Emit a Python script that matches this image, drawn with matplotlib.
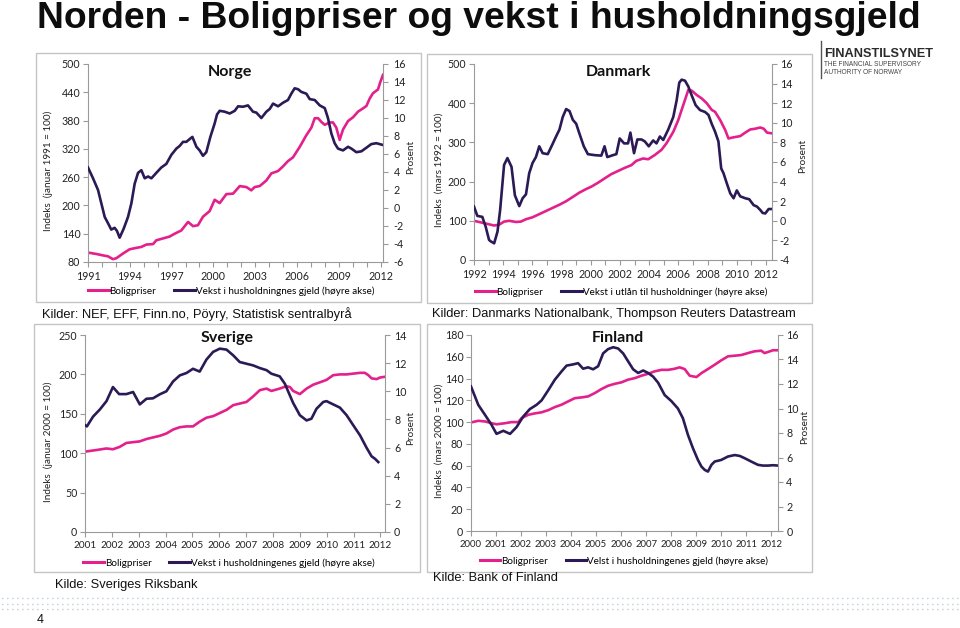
import matplotlib
matplotlib.use("Agg")
import matplotlib.pyplot as plt
from matplotlib.lines import Line2D
from matplotlib.patches import Rectangle

# ---------------- data ----------------
# Norge
no_price_t = [1991.00, 1991.60, 1992.08, 1992.44, 1992.79, 1993.03, 1993.51, 1993.99, 1994.47, 1994.83,
              1995.19, 1995.67, 1995.90, 1996.38, 1996.86, 1997.22, 1997.70, 1998.18, 1998.54, 1998.89,
              1999.25, 1999.73, 2000.09, 2000.45, 2000.93, 2001.41, 2001.89, 2002.36, 2002.72, 2002.96,
              2003.32, 2003.80, 2004.16, 2004.64, 2005.00, 2005.35, 2005.71, 2006.19, 2006.67, 2007.03,
              2007.27, 2007.51, 2007.75, 2007.99, 2008.34, 2008.58, 2008.82, 2009.06, 2009.30, 2009.66,
              2010.02, 2010.38, 2010.74, 2010.98, 2011.22, 2011.45, 2011.81, 2011.98, 2012.17]
no_price = [100, 97, 94, 92, 86, 88, 98, 107, 110, 112,
            117, 118, 126, 130, 134, 140, 147, 165, 156, 158,
            176, 188, 212, 205, 224, 225, 241, 239, 232, 239,
            241, 253, 268, 273, 283, 294, 302, 324, 349, 365,
            385, 385, 377, 371, 376, 376, 365, 339, 361, 379,
            387, 399, 406, 411, 427, 438, 446, 462, 477]
no_debt_t = [1991.00, 1991.36, 1991.72, 1991.96, 1992.20, 1992.44, 1992.67, 1992.91, 1993.08, 1993.27,
             1993.56, 1993.87, 1994.11, 1994.35, 1994.59, 1994.83, 1995.07, 1995.31, 1995.55, 1995.90,
             1996.26, 1996.62, 1996.98, 1997.34, 1997.58, 1997.82, 1998.06, 1998.25, 1998.49, 1998.78,
             1999.01, 1999.25, 1999.49, 1999.78, 2000.09, 2000.26, 2000.45, 2000.81, 2001.17, 2001.53,
             2001.77, 2002.12, 2002.48, 2002.84, 2003.08, 2003.44, 2003.80, 2004.04, 2004.28, 2004.64,
             2005.00, 2005.35, 2005.59, 2005.83, 2006.07, 2006.31, 2006.67, 2006.91, 2007.27, 2007.63,
             2007.99, 2008.22, 2008.46, 2008.70, 2008.94, 2009.30, 2009.66, 2009.90, 2010.26, 2010.62,
             2010.98, 2011.33, 2011.69, 2012.17]
no_debt = [4.5, 3.3, 2.0, 0.5, -1.0, -1.7, -2.4, -2.2, -2.55, -3.3,
           -2.3, -1.0, 0.5, 2.7, 3.9, 4.2, 3.3, 3.5, 3.3, 3.9,
           4.5, 4.9, 5.9, 6.6, 6.9, 7.35, 7.35, 7.6, 7.9, 6.8,
           6.4, 5.8, 6.2, 7.9, 9.4, 10.4, 10.8, 10.7, 10.5, 10.8,
           11.3, 11.25, 11.4, 10.7, 10.6, 10.0, 10.7, 11.0, 11.6, 11.3,
           11.7, 12.0, 12.7, 13.3, 13.2, 12.9, 12.7, 12.1, 12.0, 11.4,
           11.1, 10.0, 8.3, 7.2, 6.6, 6.4, 6.8, 6.6, 6.2, 6.3,
           6.7, 7.1, 7.2, 7.0]

# Danmark
dk_price_t = [1992.00, 1992.46, 1992.92, 1993.38, 1993.72, 1994.06, 1994.41, 1994.87, 1995.21, 1995.56,
              1996.01, 1996.47, 1996.93, 1997.39, 1997.85, 1998.31, 1998.77, 1999.22, 1999.68, 2000.03,
              2000.49, 2000.94, 2001.40, 2001.86, 2002.32, 2002.78, 2003.12, 2003.58, 2003.93, 2004.39,
              2004.84, 2005.19, 2005.65, 2005.99, 2006.33, 2006.68, 2006.91, 2007.25, 2007.60, 2007.94,
              2008.28, 2008.51, 2008.86, 2009.20, 2009.43, 2009.78, 2010.23, 2010.58, 2010.92, 2011.27,
              2011.61, 2011.84, 2012.07, 2012.41]
dk_price = [100, 96, 92, 88, 90, 98, 100, 97, 98, 104,
            109, 117, 125, 133, 141, 150, 161, 172, 181, 187,
            197, 208, 219, 227, 235, 242, 253, 259, 257, 268,
            281, 298, 327, 357, 395, 434, 432, 421, 412, 400,
            383, 378, 357, 332, 310, 313, 316, 325, 333, 335,
            338, 335, 325, 323]
dk_debt_t = [1992.00, 1992.23, 1992.57, 1992.80, 1993.03, 1993.15, 1993.38, 1993.61, 1993.79, 1994.06,
             1994.29, 1994.57, 1994.80, 1995.10, 1995.33, 1995.56, 1995.78, 1996.01, 1996.24, 1996.47,
             1996.70, 1997.05, 1997.34, 1997.62, 1997.85, 1998.08, 1998.31, 1998.54, 1998.77, 1999.00,
             1999.22, 1999.52, 1999.80, 2000.26, 2000.72, 2000.94, 2001.13, 2001.52, 2001.75, 2001.98,
             2002.28, 2002.55, 2002.71, 2002.96, 2003.19, 2003.47, 2003.70, 2003.97, 2004.27, 2004.50,
             2004.73, 2004.96, 2005.30, 2005.65, 2005.88, 2006.06, 2006.22, 2006.45, 2006.68, 2006.91,
             2007.18, 2007.48, 2007.83, 2008.06, 2008.28, 2008.51, 2008.74, 2008.93, 2009.09, 2009.32,
             2009.55, 2009.78, 2010.00, 2010.23, 2010.58, 2010.85, 2011.15, 2011.38, 2011.61, 2011.77,
             2011.95, 2012.18, 2012.41]
dk_debt = [1.45, 0.5, 0.4, -0.6, -1.95, -2.1, -2.3, -1.1, 1.1, 5.7,
           6.4, 5.5, 2.6, 1.5, 2.3, 2.7, 4.85, 5.9, 6.5, 7.6,
           6.9, 6.8, 7.7, 8.6, 9.3, 10.6, 11.4, 11.2, 10.3, 9.9,
           8.9, 7.6, 6.8, 6.7, 6.65, 7.6, 6.5, 6.7, 6.8, 8.4,
           7.9, 7.9, 9.0, 6.9, 8.3, 8.3, 8.1, 7.6, 8.2, 7.9,
           8.6, 8.25, 9.3, 10.6, 12.3, 14.1, 14.4, 14.3, 13.7, 12.8,
           11.8, 11.3, 11.1, 10.8, 9.9, 9.1, 8.1, 5.35, 4.85, 3.8,
           2.8, 2.3, 3.1, 2.5, 2.3, 2.2, 1.6, 1.45, 1.1, 0.8,
           0.75, 1.2, 1.2]

# Sverige
se_price_t = [2001.00, 2001.42, 2001.80, 2002.04, 2002.29, 2002.54, 2002.79, 2003.04, 2003.29, 2003.53,
              2003.78, 2004.03, 2004.28, 2004.53, 2004.78, 2005.02, 2005.27, 2005.52, 2005.77, 2006.02,
              2006.27, 2006.52, 2006.76, 2007.01, 2007.26, 2007.51, 2007.76, 2007.94, 2008.25, 2008.50,
              2008.63, 2008.75, 2009.00, 2009.25, 2009.50, 2009.75, 2009.99, 2010.24, 2010.49, 2010.74,
              2010.99, 2011.24, 2011.42, 2011.55, 2011.67, 2011.86, 2011.98, 2012.17]
se_price = [102, 104, 106, 105, 108, 113, 114, 115, 118, 120,
            122, 125, 130, 133, 134, 134, 140, 145, 147, 151,
            155, 161, 163, 165, 172, 180, 182, 179, 182, 185,
            184, 179, 175, 182, 187, 190, 193, 199, 200, 200,
            201, 202, 202, 199, 195, 194, 196, 197]
se_debt_t = [2001.00, 2001.07, 2001.30, 2001.55, 2001.80, 2002.04, 2002.27, 2002.54, 2002.79, 2003.04,
             2003.29, 2003.53, 2003.78, 2004.03, 2004.28, 2004.53, 2004.78, 2005.02, 2005.27, 2005.52,
             2005.77, 2006.02, 2006.27, 2006.52, 2006.76, 2007.01, 2007.26, 2007.51, 2007.76, 2007.94,
             2008.25, 2008.44, 2008.63, 2008.75, 2009.00, 2009.25, 2009.43, 2009.62, 2009.87, 2009.99,
             2010.24, 2010.49, 2010.74, 2010.99, 2011.24, 2011.48, 2011.67, 2011.80, 2011.92]
se_debt = [7.6, 7.5, 8.2, 8.7, 9.3, 10.3, 9.8, 9.8, 9.95, 9.07,
           9.47, 9.5, 9.78, 10.0, 10.7, 11.13, 11.3, 11.6, 11.4, 12.25,
           12.8, 13.03, 12.96, 12.55, 12.08, 11.96, 11.84, 11.65, 11.5, 11.25,
           11.06, 10.54, 9.7, 9.17, 8.3, 7.93, 8.05, 8.76, 9.24, 9.3,
           9.07, 8.84, 8.3, 7.58, 6.87, 6.0, 5.38, 5.2, 4.97]

# Finland
fi_price_t = [2000.00, 2000.29, 2000.56, 2000.82, 2001.02, 2001.36, 2001.62, 2001.89, 2002.02, 2002.29,
              2002.55, 2002.82, 2003.09, 2003.35, 2003.62, 2003.88, 2004.15, 2004.42, 2004.68, 2004.95,
              2005.21, 2005.48, 2005.75, 2006.01, 2006.28, 2006.55, 2006.81, 2007.08, 2007.34, 2007.61,
              2007.88, 2008.14, 2008.34, 2008.54, 2008.74, 2009.01, 2009.21, 2009.47, 2009.74, 2010.00,
              2010.27, 2010.54, 2010.80, 2011.07, 2011.33, 2011.60, 2011.73, 2011.87, 2012.07, 2012.24]
fi_price = [99.7, 101.2, 100.6, 99, 98, 99, 100, 100, 103.7, 106.7,
            108, 109, 111, 113.8, 116, 119, 122, 122.7, 123.6, 126.7,
            130.3, 133.4, 135.2, 136.5, 139, 140.4, 142.6, 144.4, 146.6, 148,
            148, 149, 150.3, 148.7, 142.6, 141.4, 145, 148.7, 152.7, 156.7,
            160.4, 161, 161.6, 163.4, 165, 165.6, 163.4, 164.4, 166, 166]
fi_debt_t = [2000.00, 2000.29, 2000.56, 2000.82, 2001.02, 2001.29, 2001.56, 2001.82, 2002.09, 2002.35,
             2002.62, 2002.82, 2003.09, 2003.35, 2003.62, 2003.82, 2004.08, 2004.28, 2004.48, 2004.68,
             2004.88, 2005.08, 2005.28, 2005.48, 2005.68, 2005.88, 2006.08, 2006.28, 2006.48, 2006.68,
             2006.88, 2007.08, 2007.28, 2007.48, 2007.74, 2008.01, 2008.27, 2008.47, 2008.67, 2008.87,
             2009.07, 2009.21, 2009.34, 2009.47, 2009.61, 2009.74, 2010.00, 2010.27, 2010.54, 2010.74,
             2010.94, 2011.20, 2011.47, 2011.67, 2011.87, 2012.07, 2012.27]
fi_debt = [11.8, 10.3, 9.48, 8.67, 7.93, 8.18, 7.93, 8.48, 9.35, 9.95,
           10.3, 10.66, 11.5, 12.35, 13.03, 13.5, 13.6, 13.7, 13.25, 13.36,
           13.2, 13.45, 14.5, 14.85, 15.0, 14.9, 14.5, 13.85, 13.2, 12.9,
           13.1, 12.9, 12.6, 12.1, 11.1, 10.6, 10.0, 9.2, 7.85, 6.76,
           5.8, 5.26, 4.99, 4.85, 5.4, 5.67, 5.8, 6.08, 6.2, 6.13,
           5.94, 5.67, 5.4, 5.34, 5.34, 5.37, 5.34]

# ---------------- styling ----------------
W, H = 960, 628
PINK = "#E3208C"
NAVY = "#2B1A55"
AXIS = "#9a9a9a"
BOX = "#c4c4c4"
CHART_FONT = ["Lato", "DejaVu Sans"]
SRC_FONT = ["Liberation Sans", "DejaVu Sans"]

plt.rcParams["font.family"] = CHART_FONT
plt.rcParams["axes.unicode_minus"] = False


def fx(px):
    return px / W


def fy(py):
    return 1 - py / H


def draw_panel(fig, plot_px, box_px, t_p, v_p, t_d, v_d, xlim, xticks, xminor,
               ylim_l, yticks_l, ylim_r, yticks_r, title, title_xy, ylabel, ylabel_x,
               debt_label, legend_xy, prosent_x, x_size=7.7, r_pad=4):
    x0, y0, x1, y1 = plot_px
    ax = fig.add_axes([fx(x0), fy(y1), (x1 - x0) / W, (y1 - y0) / H])
    ax2 = ax.twinx()

    ax.plot(t_p, v_p, color=PINK, lw=1.9, solid_joinstyle="round")
    ax2.plot(t_d, v_d, color=NAVY, lw=1.9, solid_joinstyle="round")

    ax.set_xlim(*xlim)
    ax.set_ylim(*ylim_l)
    ax.set_yticks(yticks_l)
    ax.set_xticks(xticks)
    ax.set_xticks(xminor, minor=True)
    ax2.set_ylim(*ylim_r)
    ax2.set_yticks(yticks_r)

    for a in (ax, ax2):
        a.patch.set_visible(False)
        for s in a.spines.values():
            s.set_color(AXIS)
            s.set_linewidth(0.8)
        a.spines["top"].set_visible(False)
    ax.spines["right"].set_visible(False)
    ax2.spines["left"].set_visible(False)
    ax2.spines["bottom"].set_visible(False)

    ax.tick_params(axis="y", which="major", direction="out", length=3.5, width=0.8,
                   color=AXIS, labelsize=7.7, labelcolor="#222222", pad=2)
    ax.tick_params(axis="x", which="major", direction="out", length=3.5, width=0.8,
                   color=AXIS, labelsize=x_size, labelcolor="#222222", pad=3)
    ax.tick_params(axis="x", which="minor", direction="out", length=3.5, width=0.8, color=AXIS)
    ax2.tick_params(axis="y", direction="out", length=3.5, width=0.8, color=AXIS,
                    labelsize=7.7, labelcolor="#222222", pad=r_pad)

    fig.text(fx(title_xy[0]), fy(title_xy[1]), title, ha="center", va="center",
             fontsize=11.5, fontweight="bold", color="#111111")
    fig.text(fx(ylabel_x), fy((y0 + y1) / 2 + 8), ylabel, rotation=90, ha="center", va="center",
             fontsize=7.2, color="#222222")
    fig.text(fx(prosent_x), fy((y0 + y1) / 2 - 6), "Prosent", rotation=90, ha="center", va="center",
             fontsize=7.2, color="#222222")

    handles = [Line2D([], [], color=PINK, lw=2.2), Line2D([], [], color=NAVY, lw=2.2)]
    fig.legend(handles, ["Boligpriser", debt_label], loc="center",
               bbox_to_anchor=(fx(legend_xy[0]), fy(legend_xy[1])), ncol=2, frameon=False,
               fontsize=7.1, handlelength=2.1, handletextpad=0.1, columnspacing=1.8,
               borderaxespad=0, borderpad=0)

    bx0, by0, bx1, by1 = box_px
    fig.add_artist(Rectangle((fx(bx0), fy(by1)), (bx1 - bx0) / W, (by1 - by0) / H,
                             transform=fig.transFigure, fill=False, edgecolor=BOX, lw=1.0))


fig = plt.figure(figsize=(W / 100, H / 100), dpi=100)
fig.patch.set_facecolor("white")

fig.text(fx(37), fy(18), "Norden - Boligpriser og vekst i husholdningsgjeld", ha="left", va="center",
         fontsize=26.8, fontweight="bold", family=SRC_FONT, color="#0d0d0d")

draw_panel(fig, (88, 64, 383, 262), (36, 53, 421, 302),
           no_price_t, no_price, no_debt_t, no_debt,
           (1991, 2012.17), list(range(1991, 2013, 3)), list(range(1991, 2013)),
           (80, 500), list(range(80, 501, 60)), (-6, 16), list(range(-6, 17, 2)),
           "Norge", (230, 72), "Indeks  (januar 1991 = 100)", 48,
           "Vekst i husholdningnes gjeld (høyre akse)", (231, 291), 411)

draw_panel(fig, (474, 64, 772, 260), (427, 54, 812, 303),
           dk_price_t, dk_price, dk_debt_t, dk_debt,
           (1992, 2012.41), list(range(1992, 2013, 2)), list(range(1992, 2013)),
           (0, 500), list(range(0, 501, 100)), (-4, 16), list(range(-4, 17, 2)),
           "Danmark", (618, 72), "Indeks  (mars 1992 = 100)", 439,
           "Vekst i utlån til husholdninger (høyre akse)", (621, 292), 803, r_pad=2)

draw_panel(fig, (85, 335, 385, 532), (34, 324, 420, 572),
           se_price_t, se_price, se_debt_t, se_debt,
           (2001, 2012.17), list(range(2001, 2013)), [],
           (0, 250), list(range(0, 251, 50)), (0, 14), list(range(0, 15, 2)),
           "Sverige", (227, 338), "Indeks  (januar 2000 = 100)", 48,
           "Vekst i husholdningenes gjeld (høyre akse)", (229, 563), 411, x_size=7.2, r_pad=3)

draw_panel(fig, (471, 335, 778, 531), (427, 324, 812, 572),
           fi_price_t, fi_price, fi_debt_t, fi_debt,
           (2000, 2012.27), list(range(2000, 2013)), [],
           (0, 180), list(range(0, 181, 20)), (0, 16), list(range(0, 17, 2)),
           "Finland", (618, 338), "Indeks  (mars 2000 = 100)", 439,
           "Velst i husholdningenes gjeld (høyre akse)", (624, 561), 805, x_size=6.9, r_pad=2.5)

# sources
src_kw = dict(ha="left", va="center", fontsize=9.3, family=SRC_FONT, color="#111111")
fig.text(fx(42), fy(314), "Kilder: NEF, EFF, Finn.no, Pöyry, Statistisk sentralbyrå", **src_kw)
fig.text(fx(432), fy(314), "Kilder: Danmarks Nationalbank, Thompson Reuters Datastream", **src_kw)
fig.text(fx(55), fy(585), "Kilde: Sveriges Riksbank", **src_kw)
fig.text(fx(433), fy(578), "Kilde: Bank of Finland", **src_kw)

# logo
fig.add_artist(Line2D([fx(821), fx(821)], [fy(41), fy(78)], transform=fig.transFigure,
                      color="#555555", lw=1.0))
fig.text(fx(824), fy(54), "FINANSTILSYNET", ha="left", va="center", fontsize=9.2,
         fontweight="bold", family=SRC_FONT, color="#2b2b2b")
fig.text(fx(824), fy(65), "THE FINANCIAL SUPERVISORY", ha="left", va="center", fontsize=4.7,
         family=SRC_FONT, color="#444444")
fig.text(fx(824), fy(72.5), "AUTHORITY OF NORWAY", ha="left", va="center", fontsize=4.7,
         family=SRC_FONT, color="#444444")

# dotted separators and page number
for yy in (598, 603.5, 609):
    fig.add_artist(Line2D([fx(2), fx(958)], [fy(yy), fy(yy)], transform=fig.transFigure,
                          color="#95adbd", lw=1.0, linestyle=(0, (0.6, 3.0))))
fig.text(fx(40), fy(620), "4", ha="center", va="center", fontsize=9, family=SRC_FONT,
         color="#111111")

fig.savefig("out.png", dpi=100, facecolor="white")
